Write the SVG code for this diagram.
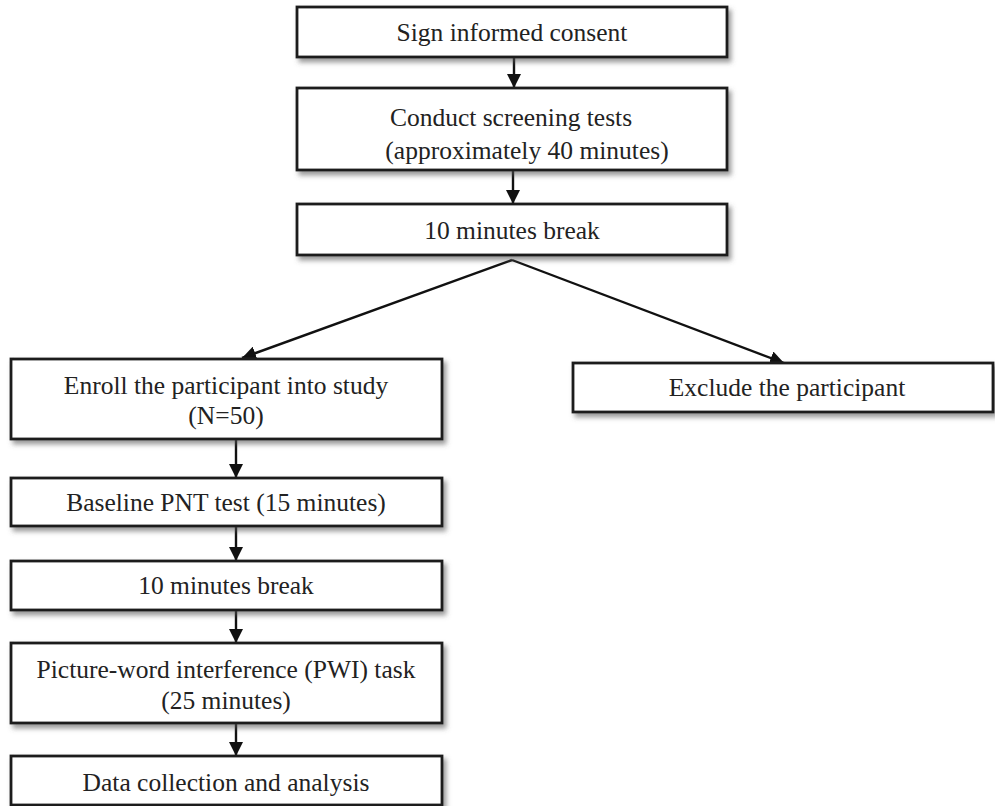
<svg xmlns="http://www.w3.org/2000/svg" width="995" height="806" viewBox="0 0 995 806">
  <style>
    .box { fill: #ffffff; stroke: #1a1a1a; stroke-width: 2.8; filter: url(#shadow); }
    .lbl { font-family: "Liberation Serif", "Times New Roman", serif; font-size: 25.5px; fill: #222222; text-anchor: middle; }
    .edge { stroke: #111111; stroke-width: 2.4; fill: none; marker-end: url(#arrow); }
  </style>
  <defs>
    <filter id="shadow" x="-5%" y="-20%" width="115%" height="150%">
      <feDropShadow dx="3" dy="4" stdDeviation="2.5" flood-color="#555555" flood-opacity="0.6"/>
    </filter>
    <marker id="arrow" viewBox="0 0 10 10" refX="10" refY="5" markerWidth="14" markerHeight="14" markerUnits="userSpaceOnUse" orient="auto">
      <path d="M0,0 L10,5 L0,10 Z" fill="#111111"/>
    </marker>
  </defs>

  <rect width="995" height="806" fill="#ffffff"/>

  <g id="connectors">
    <line class="edge" x1="514" y1="57" x2="514" y2="88"/>
    <line class="edge" x1="513" y1="170" x2="513" y2="204"/>
    <line class="edge" x1="512" y1="260" x2="242" y2="358"/>
    <line class="edge" x1="512" y1="260" x2="784" y2="363"/>
    <line class="edge" x1="236" y1="439" x2="236" y2="478"/>
    <line class="edge" x1="236" y1="526" x2="236" y2="561"/>
    <line class="edge" x1="236" y1="610" x2="236" y2="643"/>
    <line class="edge" x1="236" y1="723" x2="236" y2="756"/>
  </g>

  <g id="consent">
    <rect class="box" x="297" y="7" width="430" height="50"/>
    <text class="lbl" x="512" y="41">Sign informed consent</text>
  </g>

  <g id="screening">
    <rect class="box" x="297" y="88" width="430" height="82"/>
    <text class="lbl" x="511" y="126">Conduct screening tests</text>
    <text class="lbl" x="527" y="159">(approximately 40 minutes)</text>
  </g>

  <g id="break1">
    <rect class="box" x="297" y="204" width="430" height="51"/>
    <text class="lbl" x="512" y="239">10 minutes break</text>
  </g>

  <g id="enroll">
    <rect class="box" x="11" y="359" width="431" height="80"/>
    <text class="lbl" x="226" y="394">Enroll the participant into study</text>
    <text class="lbl" x="226" y="424">(N=50)</text>
  </g>

  <g id="exclude">
    <rect class="box" x="573" y="363" width="420" height="49"/>
    <text class="lbl" x="787" y="396">Exclude the participant</text>
  </g>

  <g id="baseline">
    <rect class="box" x="11" y="478" width="431" height="48"/>
    <text class="lbl" x="226" y="511">Baseline PNT test (15 minutes)</text>
  </g>

  <g id="break2">
    <rect class="box" x="11" y="561" width="431" height="49"/>
    <text class="lbl" x="226" y="594">10 minutes break</text>
  </g>

  <g id="pwi">
    <rect class="box" x="11" y="643" width="431" height="80"/>
    <text class="lbl" x="226" y="678">Picture-word interference (PWI) task</text>
    <text class="lbl" x="226" y="709">(25 minutes)</text>
  </g>

  <g id="analysis">
    <rect class="box" x="11" y="756" width="431" height="49"/>
    <text class="lbl" x="226" y="791">Data collection and analysis</text>
  </g>
</svg>
